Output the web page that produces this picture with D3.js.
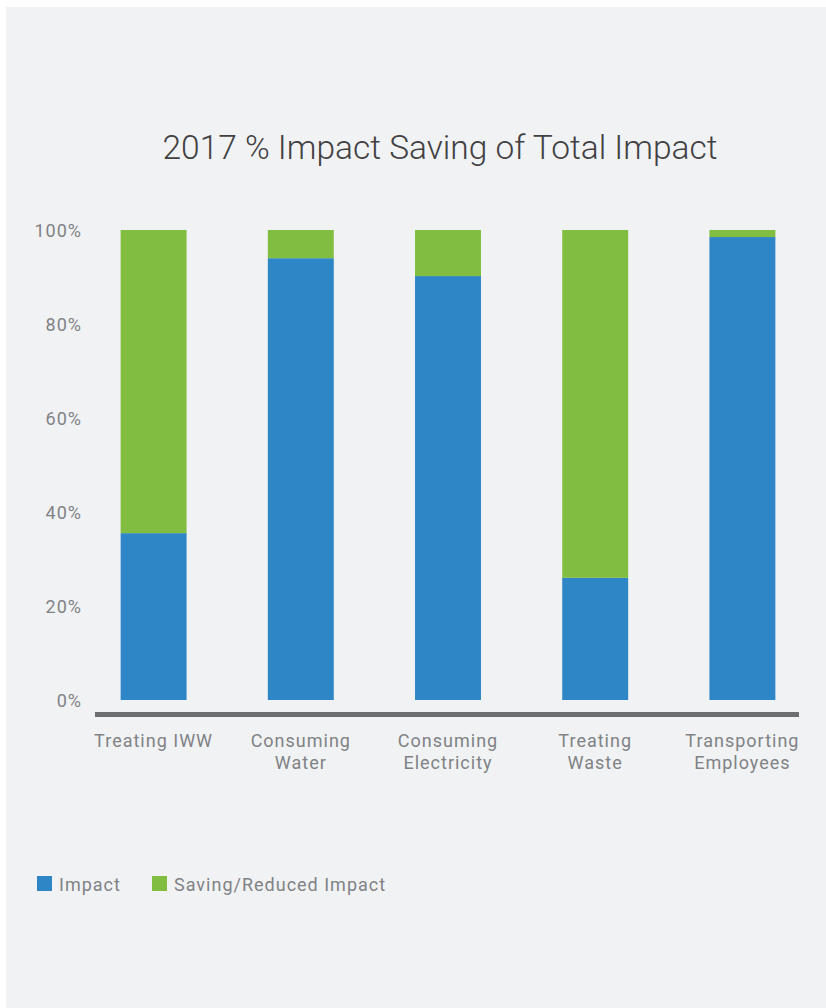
<!DOCTYPE html>
<html><head><meta charset="utf-8">
<script src="https://cdn.jsdelivr.net/npm/d3@7"></script>
<style>html,body{margin:0;padding:0;background:#fff;}svg{display:block;}</style>
</head><body>
<script>
const categories = [["Treating IWW"], ["Consuming", "Water"], ["Consuming", "Electricity"], ["Treating", "Waste"], ["Transporting", "Employees"]];
const impact = [35.5, 94.0, 90.2, 26.0, 98.5];
const saving = impact.map(v => 100 - v);
const yTicks = [0, 20, 40, 60, 80, 100];
const seriesNames = ["Impact", "Saving/Reduced Impact"];
const colors = ["#2e86c6", "#80bd41"];

const W = 826, H = 1008;
const svg = d3.select("body").append("svg").attr("width", W).attr("height", H);
svg.append("rect").attr("x", 6).attr("y", 7).attr("width", W - 6).attr("height", H - 7).attr("fill", "#f1f2f4");

const font = "Roboto, 'Liberation Sans', Arial, sans-serif";
svg.append("text").attr("x", 440).attr("y", 159).attr("text-anchor", "middle")
  .attr("font-family", font).attr("font-size", 34).attr("font-weight", 300).attr("fill", "#414042")
  .attr("textLength", 555).attr("lengthAdjust", "spacingAndGlyphs")
  .text("2017 % Impact Saving of Total Impact");

const x = d3.scaleBand().domain(d3.range(categories.length)).range([80, 816]).paddingInner(0.552).paddingOuter(0.276);
const y = d3.scaleLinear().domain([0, 100]).range([700, 230]);

const stack = d3.stack().keys([0, 1])(impact.map((v, i) => ({0: v, 1: saving[i]})));
const g = svg.append("g");
stack.forEach((s, si) => {
  g.selectAll(null).data(s).enter().append("rect")
    .attr("x", (d, i) => x(i)).attr("width", x.bandwidth())
    .attr("y", d => y(d[1])).attr("height", d => y(d[0]) - y(d[1]))
    .attr("fill", colors[si]);
});

const yAxis = d3.axisLeft(y).tickValues(yTicks).tickFormat(d => d + "%").tickSize(0).tickPadding(0);
const ya = svg.append("g").attr("transform", "translate(82,0)").call(yAxis);
ya.select(".domain").remove();
ya.selectAll("text").attr("font-family", font).attr("font-size", 18).attr("letter-spacing", 1)
  .attr("fill", "#808285").attr("dy", "0.35em");

svg.append("line").attr("x1", 95).attr("x2", 799).attr("y1", 714.5).attr("y2", 714.5)
  .attr("stroke", "#6d6e71").attr("stroke-width", 5);

const xAxis = d3.axisBottom(x).tickSize(0).tickFormat(() => "");
const xa = svg.append("g").attr("transform", "translate(0,718)").call(xAxis);
xa.select(".domain").remove();
xa.selectAll(".tick").each(function(d) {
  const t = d3.select(this).append("text").attr("text-anchor", "middle")
    .attr("font-family", font).attr("font-size", 18).attr("letter-spacing", 1).attr("fill", "#808285");
  categories[d].forEach((line, li) => {
    t.append("tspan").attr("x", 0).attr("y", 29 + li * 22).text(line);
  });
});

const leg = svg.append("g");
const legX = [37, 152];
seriesNames.forEach((n, i) => {
  leg.append("rect").attr("x", legX[i]).attr("y", 876).attr("width", 15).attr("height", 15).attr("fill", colors[i]);
  leg.append("text").attr("x", legX[i] + 22).attr("y", 891).attr("font-family", font).attr("font-size", 18)
    .attr("letter-spacing", 1).attr("fill", "#808285").text(n);
});
</script>
</body></html>
